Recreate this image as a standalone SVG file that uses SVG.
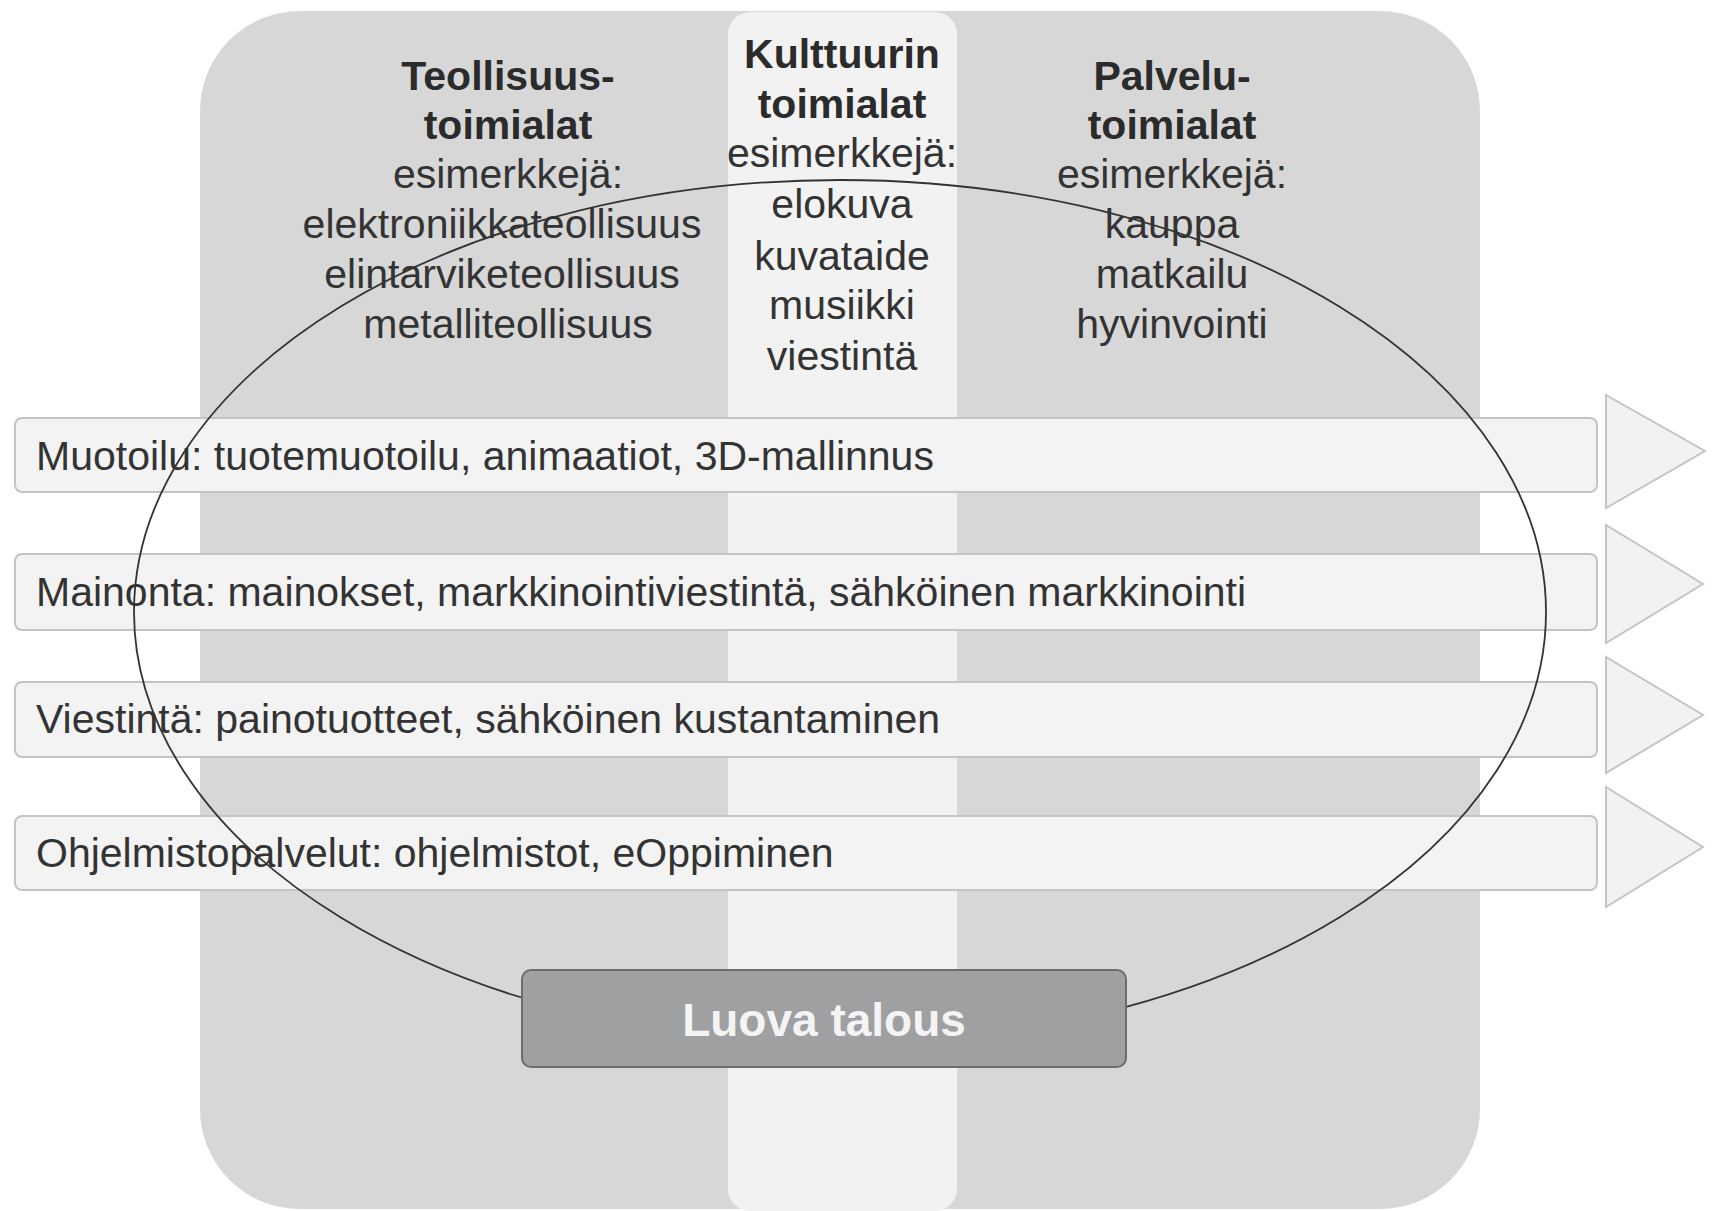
<svg xmlns="http://www.w3.org/2000/svg" width="1712" height="1211" viewBox="0 0 1712 1211">
<style>
text{font-family:"Liberation Sans",Arial,sans-serif;fill:#333;}
.h{font-size:41px;font-weight:bold;text-anchor:middle;fill:#2b2b2b;}
.c{font-size:41px;text-anchor:middle;}
.b{font-size:41px;}
.bar{fill:#f3f3f3;stroke:#c4c4c4;stroke-width:2;}
.arr{fill:#f2f2f2;stroke:#c4c4c4;stroke-width:2;stroke-linejoin:miter;}
</style>
<rect width="1712" height="1211" fill="#ffffff"/>
<g id="background">
<rect x="200" y="11" width="1280" height="1198" rx="100" ry="100" fill="#d7d7d7"/>
<rect x="728" y="12" width="229" height="1199" rx="22" ry="22" fill="#f2f2f2"/>
</g>
<g id="teollisuus">
<text class="h" x="508" y="90">Teollisuus-</text>
<text class="h" x="508" y="139">toimialat</text>
<text class="c" x="508" y="188">esimerkkejä:</text>
<text class="c" x="502" y="238">elektroniikkateollisuus</text>
<text class="c" x="502" y="288">elintarviketeollisuus</text>
<text class="c" x="508" y="338">metalliteollisuus</text>
</g>
<g id="kulttuuri">
<text class="h" x="842" y="68">Kulttuurin</text>
<text class="h" x="842" y="118">toimialat</text>
<text class="c" x="842" y="167">esimerkkejä:</text>
<text class="c" x="842" y="218">elokuva</text>
<text class="c" x="842" y="270">kuvataide</text>
<text class="c" x="842" y="319">musiikki</text>
<text class="c" x="842" y="370">viestintä</text>
</g>
<g id="palvelu">
<text class="h" x="1172" y="90">Palvelu-</text>
<text class="h" x="1172" y="139">toimialat</text>
<text class="c" x="1172" y="188">esimerkkejä:</text>
<text class="c" x="1172" y="238">kauppa</text>
<text class="c" x="1172" y="288">matkailu</text>
<text class="c" x="1172" y="338">hyvinvointi</text>
</g>
<g id="muotoilu">
<rect class="bar" x="15" y="418" width="1582" height="74" rx="7"/>
<polygon class="arr" points="1606,395 1705,451 1606,508"/>
<text class="b" x="36" y="470">Muotoilu: tuotemuotoilu, animaatiot, 3D-mallinnus</text>
</g>
<g id="mainonta">
<rect class="bar" x="15" y="554" width="1582" height="76" rx="7"/>
<polygon class="arr" points="1606,525 1703,584 1606,643"/>
<text class="b" x="36" y="606">Mainonta: mainokset, markkinointiviestintä, sähköinen markkinointi</text>
</g>
<g id="viestinta">
<rect class="bar" x="15" y="682" width="1582" height="75" rx="7"/>
<polygon class="arr" points="1606,657 1703,715 1606,773"/>
<text class="b" x="36" y="733">Viestintä: painotuotteet, sähköinen kustantaminen</text>
</g>
<g id="ohjelmistopalvelut">
<rect class="bar" x="15" y="816" width="1582" height="74" rx="7"/>
<polygon class="arr" points="1606,787 1703,847 1606,907"/>
<text class="b" x="36" y="867">Ohjelmistopalvelut: ohjelmistot, eOppiminen</text>
</g>
<g id="connectors">
<ellipse cx="840" cy="612" rx="706" ry="432" fill="none" stroke="#333" stroke-width="1.8"/>
</g>
<g id="luova-talous">
<rect x="522" y="970" width="604" height="97" rx="9" fill="#9ea0a2" stroke="#6c6c6c" stroke-width="2"/>
<text x="824" y="1036" font-size="46" font-weight="bold" text-anchor="middle" style="fill:#f4f4f4">Luova talous</text>
</g>
</svg>
